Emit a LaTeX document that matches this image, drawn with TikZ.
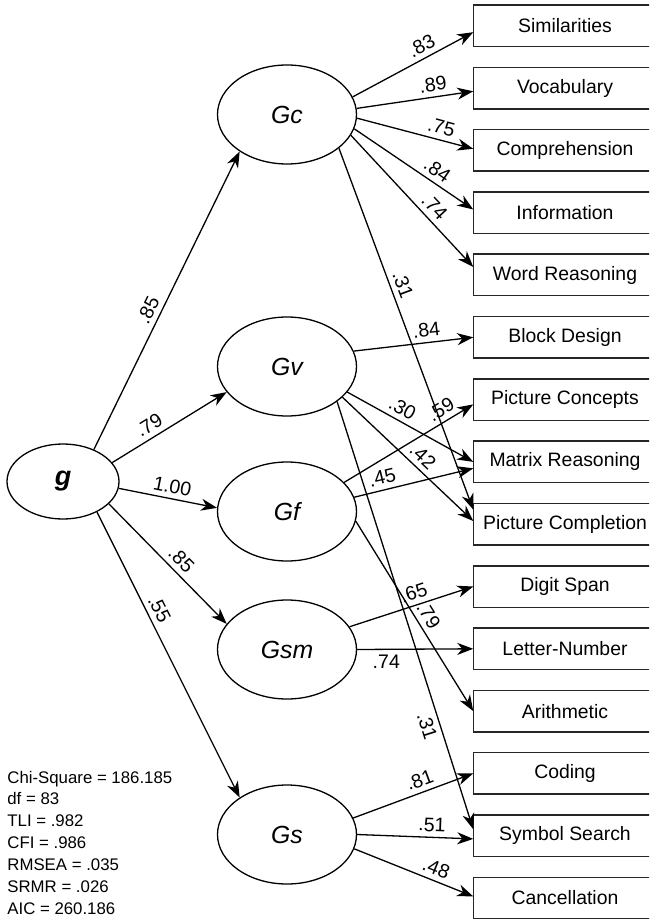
\documentclass[tikz,border=0pt]{standalone}
\usepackage{fontspec}
\setmainfont{Liberation Sans}
\usetikzlibrary{positioning,shapes.geometric,arrows.meta}

\tikzset{
  factor/.style={ellipse, draw, line width=0.65pt, minimum width=69.5pt,
    minimum height=49.5pt, inner sep=0pt, font=\fontsize{12.4}{14}\selectfont\itshape},
  test/.style={rectangle, minimum width=91pt, minimum height=20pt, outer sep=0.375pt,
    inner sep=0pt, font=\fontsize{9.7}{11}\selectfont},
  testbox/.style={draw=black!85, line width=0.75pt},
  load/.style={-{Stealth[length=8pt,width=6pt,inset=2.5pt]}, line width=0.65pt},
  coef/.style={font=\fontsize{9.8}{11}\selectfont, inner sep=2.5pt, sloped},
}

\begin{document}
\begin{tikzpicture}[x=0.5pt, y=-0.5pt, node distance=10.4pt]
  \clip (0,0) rectangle (649,919);
  % factors
  \node[factor, minimum width=56pt, minimum height=37.5pt,
    font=\fontsize{13.5}{15}\selectfont\bfseries\itshape] (g) at (63,481.5) {g};
  \node[factor] (gc) at (287,114.5) {Gc};
  \node[factor] (gv) at (287,366.5) {Gv};
  \node[factor] (gf) at (287,511.5) {Gf};
  \node[factor] (gsm) at (287,649.5) {Gsm};
  \node[factor] (gs) at (287,834.5) {Gs};
  % subtests
  \node[test] (t1) at (565,25.8) {Similarities};
  \node[test, below=of t1] (t2) {Vocabulary};
  \node[test, below=of t2] (t3) {Comprehension};
  \node[test, below=of t3] (t4) {Information};
  \node[test, below=of t4] (t5) {Word Reasoning};
  \node[test, below=of t5] (t6) {Block Design};
  \node[test, below=of t6] (t7) {Picture Concepts};
  \node[test, below=of t7] (t8) {Matrix Reasoning};
  \node[test, below=of t8] (t9) {Picture Completion};
  \node[test, below=of t9] (t10) {Digit Span};
  \node[test, below=of t10] (t11) {Letter-Number};
  \node[test, below=of t11] (t12) {Arithmetic};
  \node[test, below=of t12] (t13) {Coding};
  \node[test, below=of t13] (t14) {Symbol Search};
  \node[test, below=of t14] (t15) {Cancellation};
  % boxes run on past the right edge
  \foreach \i in {1,...,15}
    \draw[testbox] (t\i.north west) rectangle ([xshift=20pt]t\i.south east);
  % fit indices
  \node[anchor=north west, inner sep=0pt, align=left,
    font=\fontsize{8.4}{10.95}\selectfont] (fit) at (7,770.5)
    {Chi-Square = 186.185\\ df = 83\\ TLI = .982\\ CFI = .986\\
     RMSEA = .035\\ SRMR = .026\\ AIC = 260.186};
  % g loadings
  \draw[load] (g.46) -- node[coef, above, pos=.45] {.85} (gc.218);
  \draw[load] (g.21) -- node[coef, above, pos=.38] {.79} (gv.203);
  \draw[load] (g.-7) -- node[coef, above, pos=.52] {1.00} (gf.177);
  \draw[load] (g.-26) -- node[coef, above, pos=.54] {.85} (gsm.157);
  \draw[load] (g.-42) -- node[coef, above, pos=.36] {.55} (gs.142);
  % Gc
  \draw[load] (gc.15) -- node[coef, above, pos=.62] {.83} (t1.184);
  \draw[load] (gc.5) -- node[coef, above, pos=.67] {.89} (t2.182);
  \draw[load] (gc.-3) -- node[coef, above, pos=.7] {.75} (t3.179);
  \draw[load] (gc.-12) -- node[coef, above, pos=.64] {.84} (t4.178);
  \draw[load] (gc.-18) -- node[coef, above, pos=.61] {.74} (t5.175);
  \draw[load] (gc.-33) -- node[coef, above, pos=.39] {.31} (t9.171);
  % Gv
  \draw[load] (gv.13) -- node[coef, above, pos=.62] {.84} (t6.west);
  \draw[load] (gv.-23) -- node[coef, above, pos=.39] {.30} (t8.west);
  \draw[load] (gv.-29) -- node[coef, above, pos=.55] {.42} (t9.178);
  \draw[load] (gv.-35) -- node[coef, below, pos=.75] {.31} (t14.176);
  % Gf
  \draw[load] (gf.27) -- node[coef, above, pos=.8] {.59} (t7.183);
  \draw[load] (gf.12) -- node[coef, above, pos=.26] {.45} (t8.184);
  \draw[load] (gf.-8) -- node[coef, above, pos=.53] {.79} (t12.west);
  % Gsm
  \draw[load] (gsm.20) -- node[coef, above, pos=.55] {.65} (t10.west);
  \draw[load] (gsm.east) -- node[coef, below, pos=.25] {.74} (t11.west);
  % Gs
  \draw[load] (gs.14) -- node[coef, above, pos=.59] {.81} (t13.west);
  \draw[load] (gs.east) -- node[coef, above, pos=.64] {.51} (t14.182);
  \draw[load] (gs.-12) -- node[coef, above, pos=.65] {.48} (t15.179);
\end{tikzpicture}
\end{document}
